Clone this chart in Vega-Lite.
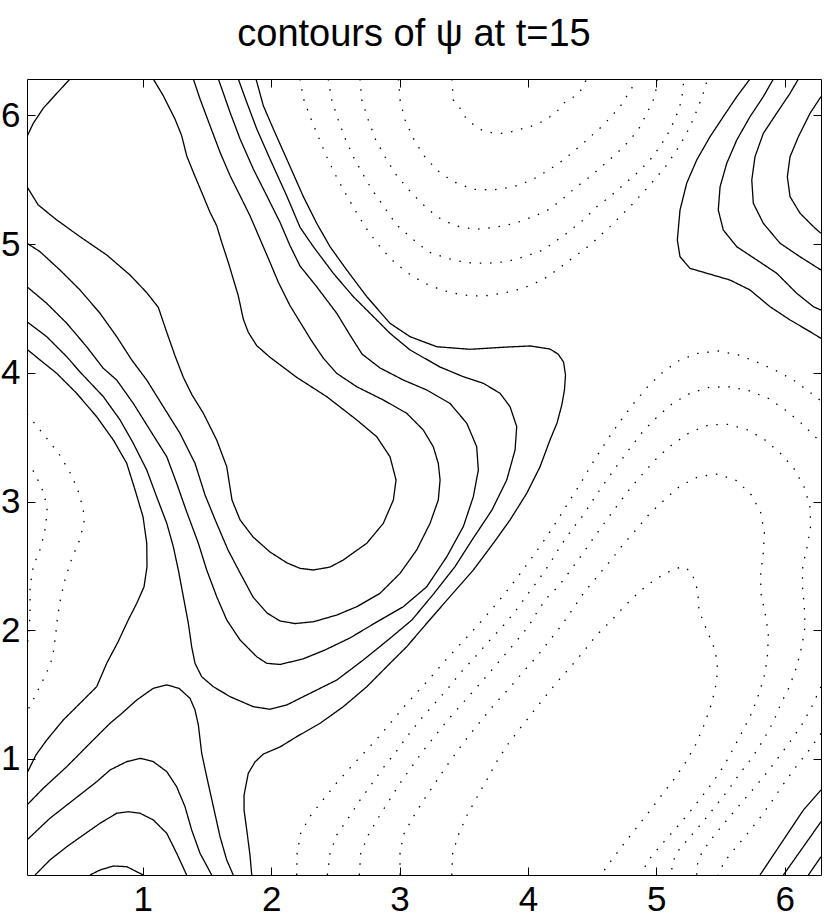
{
"$schema": "https://vega.github.io/schema/vega-lite/v6.json",
"width": 794, "height": 796,
"autosize": {"type": "none"},
"padding": {"left": 27, "top": 79, "right": 9, "bottom": 48},
"background": "white",
"title": {"text": "contours of ψ at t=15", "font": "Liberation Sans", "fontSize": 38, "fontWeight": "normal", "color": "black", "anchor": "middle", "baseline": "alphabetic", "offset": -5, "dx": -10},
"config": {"view": {"stroke": "black", "strokeWidth": 1}},
"datasets": {"c": [
{"c":"S1","s":"solid","x":0.098,"y":5.835},{"c":"S1","s":"solid","x":0.147,"y":5.939},{"c":"S1","s":"solid","x":0.225,"y":6.056},{"c":"S1","s":"solid","x":0.330,"y":6.172},{"c":"S1","s":"solid","x":0.433,"y":6.283},
{"c":"U1","s":"solid","x":0.098,"y":5.446},{"c":"U1","s":"solid","x":0.186,"y":5.304},{"c":"U1","s":"solid","x":0.330,"y":5.188},{"c":"U1","s":"solid","x":0.511,"y":5.058},{"c":"U1","s":"solid","x":0.719,"y":4.916},{"c":"U1","s":"solid","x":0.901,"y":4.760},{"c":"U1","s":"solid","x":1.031,"y":4.623},{"c":"U1","s":"solid","x":1.121,"y":4.509},{"c":"U1","s":"solid","x":1.187,"y":4.315},{"c":"U1","s":"solid","x":1.251,"y":4.133},{"c":"U1","s":"solid","x":1.316,"y":3.965},{"c":"U1","s":"solid","x":1.384,"y":3.828},{"c":"U1","s":"solid","x":1.472,"y":3.686},{"c":"U1","s":"solid","x":1.576,"y":3.478},{"c":"U1","s":"solid","x":1.654,"y":3.271},{"c":"U1","s":"solid","x":1.695,"y":3.012},{"c":"U1","s":"solid","x":1.758,"y":2.857},{"c":"U1","s":"solid","x":1.859,"y":2.725},{"c":"U1","s":"solid","x":1.991,"y":2.608},{"c":"U1","s":"solid","x":2.124,"y":2.523},{"c":"U1","s":"solid","x":2.225,"y":2.481},{"c":"U1","s":"solid","x":2.329,"y":2.468},{"c":"U1","s":"solid","x":2.459,"y":2.491},{"c":"U1","s":"solid","x":2.562,"y":2.546},{"c":"U1","s":"solid","x":2.745,"y":2.676},{"c":"U1","s":"solid","x":2.874,"y":2.831},{"c":"U1","s":"solid","x":2.952,"y":3.012},{"c":"U1","s":"solid","x":2.973,"y":3.167},{"c":"U1","s":"solid","x":2.926,"y":3.348},{"c":"U1","s":"solid","x":2.822,"y":3.504},{"c":"U1","s":"solid","x":2.667,"y":3.634},{"c":"U1","s":"solid","x":2.433,"y":3.815},{"c":"U1","s":"solid","x":2.199,"y":3.965},{"c":"U1","s":"solid","x":2.095,"y":4.043},{"c":"U1","s":"solid","x":1.991,"y":4.121},{"c":"U1","s":"solid","x":1.888,"y":4.211},{"c":"U1","s":"solid","x":1.822,"y":4.315},{"c":"U1","s":"solid","x":1.783,"y":4.418},{"c":"U1","s":"solid","x":1.744,"y":4.599},{"c":"U1","s":"solid","x":1.705,"y":4.729},{"c":"U1","s":"solid","x":1.666,"y":4.859},{"c":"U1","s":"solid","x":1.615,"y":5.014},{"c":"U1","s":"solid","x":1.576,"y":5.143},{"c":"U1","s":"solid","x":1.524,"y":5.247},{"c":"U1","s":"solid","x":1.459,"y":5.403},{"c":"U1","s":"solid","x":1.394,"y":5.558},{"c":"U1","s":"solid","x":1.342,"y":5.687},{"c":"U1","s":"solid","x":1.303,"y":5.843},{"c":"U1","s":"solid","x":1.251,"y":5.972},{"c":"U1","s":"solid","x":1.160,"y":6.153},{"c":"U1","s":"solid","x":1.082,"y":6.283},
{"c":"U2","s":"solid","x":0.098,"y":5.007},{"c":"U2","s":"solid","x":0.200,"y":4.941},{"c":"U2","s":"solid","x":0.355,"y":4.799},{"c":"U2","s":"solid","x":0.511,"y":4.644},{"c":"U2","s":"solid","x":0.667,"y":4.463},{"c":"U2","s":"solid","x":0.797,"y":4.281},{"c":"U2","s":"solid","x":0.914,"y":4.100},{"c":"U2","s":"solid","x":1.031,"y":3.944},{"c":"U2","s":"solid","x":1.160,"y":3.737},{"c":"U2","s":"solid","x":1.290,"y":3.530},{"c":"U2","s":"solid","x":1.407,"y":3.297},{"c":"U2","s":"solid","x":1.485,"y":3.051},{"c":"U2","s":"solid","x":1.571,"y":2.841},{"c":"U2","s":"solid","x":1.664,"y":2.624},{"c":"U2","s":"solid","x":1.758,"y":2.445},{"c":"U2","s":"solid","x":1.859,"y":2.258},{"c":"U2","s":"solid","x":1.968,"y":2.134},{"c":"U2","s":"solid","x":2.069,"y":2.072},{"c":"U2","s":"solid","x":2.186,"y":2.052},{"c":"U2","s":"solid","x":2.329,"y":2.066},{"c":"U2","s":"solid","x":2.511,"y":2.118},{"c":"U2","s":"solid","x":2.667,"y":2.183},{"c":"U2","s":"solid","x":2.848,"y":2.287},{"c":"U2","s":"solid","x":3.004,"y":2.442},{"c":"U2","s":"solid","x":3.134,"y":2.624},{"c":"U2","s":"solid","x":3.238,"y":2.831},{"c":"U2","s":"solid","x":3.302,"y":3.012},{"c":"U2","s":"solid","x":3.316,"y":3.167},{"c":"U2","s":"solid","x":3.302,"y":3.297},{"c":"U2","s":"solid","x":3.263,"y":3.426},{"c":"U2","s":"solid","x":3.185,"y":3.556},{"c":"U2","s":"solid","x":3.056,"y":3.686},{"c":"U2","s":"solid","x":2.874,"y":3.789},{"c":"U2","s":"solid","x":2.667,"y":3.892},{"c":"U2","s":"solid","x":2.511,"y":3.996},{"c":"U2","s":"solid","x":2.406,"y":4.115},{"c":"U2","s":"solid","x":2.311,"y":4.255},{"c":"U2","s":"solid","x":2.225,"y":4.395},{"c":"U2","s":"solid","x":2.147,"y":4.522},{"c":"U2","s":"solid","x":2.056,"y":4.704},{"c":"U2","s":"solid","x":1.991,"y":4.859},{"c":"U2","s":"solid","x":1.913,"y":5.040},{"c":"U2","s":"solid","x":1.835,"y":5.221},{"c":"U2","s":"solid","x":1.758,"y":5.376},{"c":"U2","s":"solid","x":1.680,"y":5.532},{"c":"U2","s":"solid","x":1.602,"y":5.714},{"c":"U2","s":"solid","x":1.524,"y":5.920},{"c":"U2","s":"solid","x":1.446,"y":6.128},{"c":"U2","s":"solid","x":1.394,"y":6.283},
{"c":"U3","s":"solid","x":0.098,"y":4.669},{"c":"U3","s":"solid","x":0.252,"y":4.540},{"c":"U3","s":"solid","x":0.408,"y":4.385},{"c":"U3","s":"solid","x":0.563,"y":4.203},{"c":"U3","s":"solid","x":0.690,"y":4.038},{"c":"U3","s":"solid","x":0.797,"y":3.944},{"c":"U3","s":"solid","x":0.926,"y":3.763},{"c":"U3","s":"solid","x":1.056,"y":3.556},{"c":"U3","s":"solid","x":1.187,"y":3.348},{"c":"U3","s":"solid","x":1.264,"y":3.142},{"c":"U3","s":"solid","x":1.337,"y":2.934},{"c":"U3","s":"solid","x":1.433,"y":2.676},{"c":"U3","s":"solid","x":1.498,"y":2.468},{"c":"U3","s":"solid","x":1.576,"y":2.261},{"c":"U3","s":"solid","x":1.654,"y":2.080},{"c":"U3","s":"solid","x":1.758,"y":1.924},{"c":"U3","s":"solid","x":1.888,"y":1.794},{"c":"U3","s":"solid","x":1.966,"y":1.743},{"c":"U3","s":"solid","x":2.069,"y":1.734},{"c":"U3","s":"solid","x":2.248,"y":1.777},{"c":"U3","s":"solid","x":2.420,"y":1.847},{"c":"U3","s":"solid","x":2.614,"y":1.940},{"c":"U3","s":"solid","x":2.809,"y":2.056},{"c":"U3","s":"solid","x":3.027,"y":2.181},{"c":"U3","s":"solid","x":3.212,"y":2.338},{"c":"U3","s":"solid","x":3.368,"y":2.571},{"c":"U3","s":"solid","x":3.497,"y":2.805},{"c":"U3","s":"solid","x":3.575,"y":3.038},{"c":"U3","s":"solid","x":3.614,"y":3.245},{"c":"U3","s":"solid","x":3.601,"y":3.426},{"c":"U3","s":"solid","x":3.524,"y":3.608},{"c":"U3","s":"solid","x":3.393,"y":3.763},{"c":"U3","s":"solid","x":3.212,"y":3.867},{"c":"U3","s":"solid","x":3.030,"y":3.944},{"c":"U3","s":"solid","x":2.848,"y":4.038},{"c":"U3","s":"solid","x":2.708,"y":4.146},{"c":"U3","s":"solid","x":2.614,"y":4.294},{"c":"U3","s":"solid","x":2.511,"y":4.463},{"c":"U3","s":"solid","x":2.355,"y":4.669},{"c":"U3","s":"solid","x":2.225,"y":4.830},{"c":"U3","s":"solid","x":2.147,"y":4.988},{"c":"U3","s":"solid","x":2.069,"y":5.170},{"c":"U3","s":"solid","x":1.966,"y":5.376},{"c":"U3","s":"solid","x":1.861,"y":5.584},{"c":"U3","s":"solid","x":1.758,"y":5.817},{"c":"U3","s":"solid","x":1.680,"y":6.024},{"c":"U3","s":"solid","x":1.589,"y":6.283},
{"c":"U4","s":"solid","x":0.098,"y":4.397},{"c":"U4","s":"solid","x":0.252,"y":4.281},{"c":"U4","s":"solid","x":0.408,"y":4.125},{"c":"U4","s":"solid","x":0.511,"y":4.007},{"c":"U4","s":"solid","x":0.693,"y":3.815},{"c":"U4","s":"solid","x":0.823,"y":3.634},{"c":"U4","s":"solid","x":0.926,"y":3.453},{"c":"U4","s":"solid","x":1.031,"y":3.245},{"c":"U4","s":"solid","x":1.109,"y":3.035},{"c":"U4","s":"solid","x":1.187,"y":2.831},{"c":"U4","s":"solid","x":1.238,"y":2.649},{"c":"U4","s":"solid","x":1.277,"y":2.468},{"c":"U4","s":"solid","x":1.316,"y":2.261},{"c":"U4","s":"solid","x":1.355,"y":2.054},{"c":"U4","s":"solid","x":1.381,"y":1.872},{"c":"U4","s":"solid","x":1.407,"y":1.743},{"c":"U4","s":"solid","x":1.459,"y":1.639},{"c":"U4","s":"solid","x":1.550,"y":1.561},{"c":"U4","s":"solid","x":1.680,"y":1.484},{"c":"U4","s":"solid","x":1.861,"y":1.406},{"c":"U4","s":"solid","x":1.991,"y":1.386},{"c":"U4","s":"solid","x":2.121,"y":1.419},{"c":"U4","s":"solid","x":2.251,"y":1.484},{"c":"U4","s":"solid","x":2.511,"y":1.613},{"c":"U4","s":"solid","x":2.718,"y":1.769},{"c":"U4","s":"solid","x":2.910,"y":1.924},{"c":"U4","s":"solid","x":3.097,"y":2.080},{"c":"U4","s":"solid","x":3.269,"y":2.287},{"c":"U4","s":"solid","x":3.432,"y":2.494},{"c":"U4","s":"solid","x":3.565,"y":2.701},{"c":"U4","s":"solid","x":3.720,"y":2.934},{"c":"U4","s":"solid","x":3.835,"y":3.167},{"c":"U4","s":"solid","x":3.900,"y":3.400},{"c":"U4","s":"solid","x":3.913,"y":3.582},{"c":"U4","s":"solid","x":3.861,"y":3.737},{"c":"U4","s":"solid","x":3.783,"y":3.841},{"c":"U4","s":"solid","x":3.653,"y":3.919},{"c":"U4","s":"solid","x":3.497,"y":3.970},{"c":"U4","s":"solid","x":3.316,"y":4.045},{"c":"U4","s":"solid","x":3.082,"y":4.178},{"c":"U4","s":"solid","x":2.926,"y":4.307},{"c":"U4","s":"solid","x":2.770,"y":4.463},{"c":"U4","s":"solid","x":2.640,"y":4.592},{"c":"U4","s":"solid","x":2.484,"y":4.774},{"c":"U4","s":"solid","x":2.329,"y":4.980},{"c":"U4","s":"solid","x":2.225,"y":5.131},{"c":"U4","s":"solid","x":2.121,"y":5.376},{"c":"U4","s":"solid","x":1.991,"y":5.662},{"c":"U4","s":"solid","x":1.888,"y":5.895},{"c":"U4","s":"solid","x":1.810,"y":6.102},{"c":"U4","s":"solid","x":1.744,"y":6.283},
{"c":"K","s":"solid","x":1.849,"y":0.098},{"c":"K","s":"solid","x":1.835,"y":0.254},{"c":"K","s":"solid","x":1.810,"y":0.448},{"c":"K","s":"solid","x":1.789,"y":0.603},{"c":"K","s":"solid","x":1.789,"y":0.720},{"c":"K","s":"solid","x":1.822,"y":0.889},{"c":"K","s":"solid","x":1.874,"y":0.976},{"c":"K","s":"solid","x":1.939,"y":1.038},{"c":"K","s":"solid","x":2.069,"y":1.093},{"c":"K","s":"solid","x":2.199,"y":1.173},{"c":"K","s":"solid","x":2.381,"y":1.277},{"c":"K","s":"solid","x":2.562,"y":1.406},{"c":"K","s":"solid","x":2.745,"y":1.561},{"c":"K","s":"solid","x":2.926,"y":1.743},{"c":"K","s":"solid","x":3.056,"y":1.872},{"c":"K","s":"solid","x":3.212,"y":2.054},{"c":"K","s":"solid","x":3.393,"y":2.261},{"c":"K","s":"solid","x":3.575,"y":2.468},{"c":"K","s":"solid","x":3.731,"y":2.676},{"c":"K","s":"solid","x":3.861,"y":2.857},{"c":"K","s":"solid","x":3.991,"y":3.064},{"c":"K","s":"solid","x":4.095,"y":3.271},{"c":"K","s":"solid","x":4.172,"y":3.478},{"c":"K","s":"solid","x":4.227,"y":3.610},{"c":"K","s":"solid","x":4.264,"y":3.750},{"c":"K","s":"solid","x":4.285,"y":3.867},{"c":"K","s":"solid","x":4.293,"y":3.983},{"c":"K","s":"solid","x":4.278,"y":4.084},{"c":"K","s":"solid","x":4.235,"y":4.146},{"c":"K","s":"solid","x":4.172,"y":4.185},{"c":"K","s":"solid","x":4.017,"y":4.209},{"c":"K","s":"solid","x":3.809,"y":4.199},{"c":"K","s":"solid","x":3.549,"y":4.183},{"c":"K","s":"solid","x":3.290,"y":4.203},{"c":"K","s":"solid","x":3.082,"y":4.281},{"c":"K","s":"solid","x":2.926,"y":4.385},{"c":"K","s":"solid","x":2.745,"y":4.592},{"c":"K","s":"solid","x":2.589,"y":4.799},{"c":"K","s":"solid","x":2.459,"y":4.980},{"c":"K","s":"solid","x":2.355,"y":5.162},{"c":"K","s":"solid","x":2.251,"y":5.369},{"c":"K","s":"solid","x":2.121,"y":5.662},{"c":"K","s":"solid","x":2.017,"y":5.895},{"c":"K","s":"solid","x":1.939,"y":6.076},{"c":"K","s":"solid","x":1.882,"y":6.283},
{"c":"F","s":"solid","x":0.098,"y":4.183},{"c":"F","s":"solid","x":0.200,"y":4.100},{"c":"F","s":"solid","x":0.330,"y":3.996},{"c":"F","s":"solid","x":0.485,"y":3.841},{"c":"F","s":"solid","x":0.641,"y":3.659},{"c":"F","s":"solid","x":0.771,"y":3.478},{"c":"F","s":"solid","x":0.875,"y":3.297},{"c":"F","s":"solid","x":0.940,"y":3.090},{"c":"F","s":"solid","x":1.002,"y":2.882},{"c":"F","s":"solid","x":1.031,"y":2.676},{"c":"F","s":"solid","x":1.033,"y":2.494},{"c":"F","s":"solid","x":1.010,"y":2.338},{"c":"F","s":"solid","x":0.953,"y":2.209},{"c":"F","s":"solid","x":0.887,"y":2.080},{"c":"F","s":"solid","x":0.807,"y":1.909},{"c":"F","s":"solid","x":0.719,"y":1.743},{"c":"F","s":"solid","x":0.641,"y":1.561},{"c":"F","s":"solid","x":0.511,"y":1.432},{"c":"F","s":"solid","x":0.381,"y":1.303},{"c":"F","s":"solid","x":0.252,"y":1.147},{"c":"F","s":"solid","x":0.168,"y":1.031},{"c":"F","s":"solid","x":0.098,"y":0.889},
{"c":"A1","s":"solid","x":0.098,"y":0.642},{"c":"A1","s":"solid","x":0.225,"y":0.772},{"c":"A1","s":"solid","x":0.408,"y":0.940},{"c":"A1","s":"solid","x":0.589,"y":1.122},{"c":"A1","s":"solid","x":0.745,"y":1.277},{"c":"A1","s":"solid","x":0.838,"y":1.355},{"c":"A1","s":"solid","x":0.953,"y":1.458},{"c":"A1","s":"solid","x":1.082,"y":1.549},{"c":"A1","s":"solid","x":1.187,"y":1.575},{"c":"A1","s":"solid","x":1.282,"y":1.549},{"c":"A1","s":"solid","x":1.368,"y":1.471},{"c":"A1","s":"solid","x":1.407,"y":1.380},{"c":"A1","s":"solid","x":1.433,"y":1.264},{"c":"A1","s":"solid","x":1.459,"y":1.044},{"c":"A1","s":"solid","x":1.498,"y":0.862},{"c":"A1","s":"solid","x":1.550,"y":0.629},{"c":"A1","s":"solid","x":1.602,"y":0.396},{"c":"A1","s":"solid","x":1.654,"y":0.215},{"c":"A1","s":"solid","x":1.705,"y":0.098},
{"c":"A2","s":"solid","x":0.098,"y":0.370},{"c":"A2","s":"solid","x":0.277,"y":0.539},{"c":"A2","s":"solid","x":0.459,"y":0.681},{"c":"A2","s":"solid","x":0.641,"y":0.823},{"c":"A2","s":"solid","x":0.745,"y":0.914},{"c":"A2","s":"solid","x":0.875,"y":0.979},{"c":"A2","s":"solid","x":0.979,"y":1.005},{"c":"A2","s":"solid","x":1.082,"y":0.979},{"c":"A2","s":"solid","x":1.187,"y":0.901},{"c":"A2","s":"solid","x":1.264,"y":0.784},{"c":"A2","s":"solid","x":1.329,"y":0.629},{"c":"A2","s":"solid","x":1.381,"y":0.448},{"c":"A2","s":"solid","x":1.446,"y":0.267},{"c":"A2","s":"solid","x":1.537,"y":0.098},
{"c":"A3","s":"solid","x":0.161,"y":0.098},{"c":"A3","s":"solid","x":0.277,"y":0.215},{"c":"A3","s":"solid","x":0.408,"y":0.318},{"c":"A3","s":"solid","x":0.537,"y":0.409},{"c":"A3","s":"solid","x":0.667,"y":0.500},{"c":"A3","s":"solid","x":0.797,"y":0.578},{"c":"A3","s":"solid","x":0.887,"y":0.590},{"c":"A3","s":"solid","x":0.979,"y":0.578},{"c":"A3","s":"solid","x":1.082,"y":0.526},{"c":"A3","s":"solid","x":1.187,"y":0.422},{"c":"A3","s":"solid","x":1.264,"y":0.267},{"c":"A3","s":"solid","x":1.342,"y":0.098},
{"c":"A4","s":"solid","x":0.589,"y":0.098},{"c":"A4","s":"solid","x":0.667,"y":0.137},{"c":"A4","s":"solid","x":0.771,"y":0.168},{"c":"A4","s":"solid","x":0.875,"y":0.163},{"c":"A4","s":"solid","x":1.004,"y":0.098},
{"c":"R1","s":"solid","x":5.730,"y":6.283},{"c":"R1","s":"solid","x":5.627,"y":6.146},{"c":"R1","s":"solid","x":5.522,"y":5.990},{"c":"R1","s":"solid","x":5.419,"y":5.835},{"c":"R1","s":"solid","x":5.315,"y":5.654},{"c":"R1","s":"solid","x":5.237,"y":5.473},{"c":"R1","s":"solid","x":5.185,"y":5.265},{"c":"R1","s":"solid","x":5.164,"y":5.032},{"c":"R1","s":"solid","x":5.185,"y":4.902},{"c":"R1","s":"solid","x":5.263,"y":4.812},{"c":"R1","s":"solid","x":5.393,"y":4.774},{"c":"R1","s":"solid","x":5.575,"y":4.721},{"c":"R1","s":"solid","x":5.730,"y":4.644},{"c":"R1","s":"solid","x":5.886,"y":4.514},{"c":"R1","s":"solid","x":6.042,"y":4.411},{"c":"R1","s":"solid","x":6.198,"y":4.320},{"c":"R1","s":"solid","x":6.283,"y":4.268},
{"c":"R2","s":"solid","x":5.912,"y":6.283},{"c":"R2","s":"solid","x":5.834,"y":6.146},{"c":"R2","s":"solid","x":5.730,"y":5.990},{"c":"R2","s":"solid","x":5.627,"y":5.809},{"c":"R2","s":"solid","x":5.549,"y":5.628},{"c":"R2","s":"solid","x":5.497,"y":5.446},{"c":"R2","s":"solid","x":5.483,"y":5.265},{"c":"R2","s":"solid","x":5.522,"y":5.110},{"c":"R2","s":"solid","x":5.627,"y":4.980},{"c":"R2","s":"solid","x":5.783,"y":4.877},{"c":"R2","s":"solid","x":5.938,"y":4.774},{"c":"R2","s":"solid","x":6.094,"y":4.618},{"c":"R2","s":"solid","x":6.224,"y":4.514},{"c":"R2","s":"solid","x":6.283,"y":4.488},
{"c":"R3","s":"solid","x":6.107,"y":6.283},{"c":"R3","s":"solid","x":6.042,"y":6.172},{"c":"R3","s":"solid","x":5.938,"y":6.017},{"c":"R3","s":"solid","x":5.834,"y":5.861},{"c":"R3","s":"solid","x":5.769,"y":5.679},{"c":"R3","s":"solid","x":5.744,"y":5.498},{"c":"R3","s":"solid","x":5.756,"y":5.317},{"c":"R3","s":"solid","x":5.834,"y":5.162},{"c":"R3","s":"solid","x":5.964,"y":5.007},{"c":"R3","s":"solid","x":6.120,"y":4.902},{"c":"R3","s":"solid","x":6.283,"y":4.799},
{"c":"R4","s":"solid","x":6.283,"y":6.146},{"c":"R4","s":"solid","x":6.198,"y":6.017},{"c":"R4","s":"solid","x":6.107,"y":5.835},{"c":"R4","s":"solid","x":6.042,"y":5.679},{"c":"R4","s":"solid","x":6.021,"y":5.524},{"c":"R4","s":"solid","x":6.042,"y":5.369},{"c":"R4","s":"solid","x":6.120,"y":5.240},{"c":"R4","s":"solid","x":6.224,"y":5.136},{"c":"R4","s":"solid","x":6.283,"y":5.084},
{"c":"B1","s":"solid","x":5.808,"y":0.098},{"c":"B1","s":"solid","x":5.990,"y":0.370},{"c":"B1","s":"solid","x":6.146,"y":0.603},{"c":"B1","s":"solid","x":6.283,"y":0.759},
{"c":"B2","s":"solid","x":5.990,"y":0.098},{"c":"B2","s":"solid","x":6.146,"y":0.318},{"c":"B2","s":"solid","x":6.283,"y":0.512},
{"c":"B3","s":"solid","x":6.185,"y":0.098},{"c":"B3","s":"solid","x":6.283,"y":0.240},
{"c":"D1","s":"dotted","x":2.225,"y":6.283},{"c":"D1","s":"dotted","x":2.251,"y":6.133},{"c":"D1","s":"dotted","x":2.308,"y":5.978},{"c":"D1","s":"dotted","x":2.373,"y":5.822},{"c":"D1","s":"dotted","x":2.433,"y":5.679},{"c":"D1","s":"dotted","x":2.498,"y":5.543},{"c":"D1","s":"dotted","x":2.576,"y":5.400},{"c":"D1","s":"dotted","x":2.653,"y":5.265},{"c":"D1","s":"dotted","x":2.737,"y":5.128},{"c":"D1","s":"dotted","x":2.830,"y":5.001},{"c":"D1","s":"dotted","x":2.932,"y":4.885},{"c":"D1","s":"dotted","x":3.056,"y":4.781},{"c":"D1","s":"dotted","x":3.189,"y":4.700},{"c":"D1","s":"dotted","x":3.333,"y":4.641},{"c":"D1","s":"dotted","x":3.489,"y":4.605},{"c":"D1","s":"dotted","x":3.645,"y":4.595},{"c":"D1","s":"dotted","x":3.804,"y":4.618},{"c":"D1","s":"dotted","x":3.954,"y":4.654},{"c":"D1","s":"dotted","x":4.100,"y":4.716},{"c":"D1","s":"dotted","x":4.172,"y":4.760},{"c":"D1","s":"dotted","x":4.328,"y":4.877},{"c":"D1","s":"dotted","x":4.484,"y":4.993},{"c":"D1","s":"dotted","x":4.640,"y":5.136},{"c":"D1","s":"dotted","x":4.796,"y":5.291},{"c":"D1","s":"dotted","x":4.951,"y":5.460},{"c":"D1","s":"dotted","x":5.082,"y":5.615},{"c":"D1","s":"dotted","x":5.185,"y":5.770},{"c":"D1","s":"dotted","x":5.263,"y":5.913},{"c":"D1","s":"dotted","x":5.328,"y":6.068},{"c":"D1","s":"dotted","x":5.380,"y":6.211},{"c":"D1","s":"dotted","x":5.398,"y":6.283},
{"c":"D2","s":"dotted","x":2.445,"y":6.283},{"c":"D2","s":"dotted","x":2.472,"y":6.120},{"c":"D2","s":"dotted","x":2.523,"y":5.965},{"c":"D2","s":"dotted","x":2.576,"y":5.822},{"c":"D2","s":"dotted","x":2.640,"y":5.679},{"c":"D2","s":"dotted","x":2.718,"y":5.537},{"c":"D2","s":"dotted","x":2.796,"y":5.408},{"c":"D2","s":"dotted","x":2.887,"y":5.279},{"c":"D2","s":"dotted","x":2.978,"y":5.149},{"c":"D2","s":"dotted","x":3.095,"y":5.045},{"c":"D2","s":"dotted","x":3.224,"y":4.941},{"c":"D2","s":"dotted","x":3.368,"y":4.890},{"c":"D2","s":"dotted","x":3.524,"y":4.856},{"c":"D2","s":"dotted","x":3.679,"y":4.851},{"c":"D2","s":"dotted","x":3.835,"y":4.864},{"c":"D2","s":"dotted","x":3.991,"y":4.908},{"c":"D2","s":"dotted","x":4.120,"y":4.955},{"c":"D2","s":"dotted","x":4.303,"y":5.084},{"c":"D2","s":"dotted","x":4.432,"y":5.188},{"c":"D2","s":"dotted","x":4.536,"y":5.291},{"c":"D2","s":"dotted","x":4.640,"y":5.369},{"c":"D2","s":"dotted","x":4.743,"y":5.460},{"c":"D2","s":"dotted","x":4.848,"y":5.550},{"c":"D2","s":"dotted","x":4.951,"y":5.654},{"c":"D2","s":"dotted","x":5.029,"y":5.757},{"c":"D2","s":"dotted","x":5.107,"y":5.887},{"c":"D2","s":"dotted","x":5.164,"y":6.017},{"c":"D2","s":"dotted","x":5.198,"y":6.120},{"c":"D2","s":"dotted","x":5.211,"y":6.237},{"c":"D2","s":"dotted","x":5.216,"y":6.283},
{"c":"D3","s":"dotted","x":2.692,"y":6.283},{"c":"D3","s":"dotted","x":2.706,"y":6.120},{"c":"D3","s":"dotted","x":2.757,"y":5.965},{"c":"D3","s":"dotted","x":2.809,"y":5.822},{"c":"D3","s":"dotted","x":2.887,"y":5.679},{"c":"D3","s":"dotted","x":2.965,"y":5.550},{"c":"D3","s":"dotted","x":3.069,"y":5.426},{"c":"D3","s":"dotted","x":3.173,"y":5.317},{"c":"D3","s":"dotted","x":3.290,"y":5.213},{"c":"D3","s":"dotted","x":3.432,"y":5.143},{"c":"D3","s":"dotted","x":3.588,"y":5.115},{"c":"D3","s":"dotted","x":3.744,"y":5.131},{"c":"D3","s":"dotted","x":3.900,"y":5.162},{"c":"D3","s":"dotted","x":4.056,"y":5.219},{"c":"D3","s":"dotted","x":4.172,"y":5.273},{"c":"D3","s":"dotted","x":4.276,"y":5.356},{"c":"D3","s":"dotted","x":4.380,"y":5.446},{"c":"D3","s":"dotted","x":4.484,"y":5.524},{"c":"D3","s":"dotted","x":4.588,"y":5.615},{"c":"D3","s":"dotted","x":4.692,"y":5.706},{"c":"D3","s":"dotted","x":4.796,"y":5.809},{"c":"D3","s":"dotted","x":4.874,"y":5.913},{"c":"D3","s":"dotted","x":4.926,"y":6.017},{"c":"D3","s":"dotted","x":4.977,"y":6.120},{"c":"D3","s":"dotted","x":5.004,"y":6.223},{"c":"D3","s":"dotted","x":5.008,"y":6.283},
{"c":"D4","s":"dotted","x":2.991,"y":6.283},{"c":"D4","s":"dotted","x":3.004,"y":6.120},{"c":"D4","s":"dotted","x":3.043,"y":5.965},{"c":"D4","s":"dotted","x":3.108,"y":5.822},{"c":"D4","s":"dotted","x":3.185,"y":5.693},{"c":"D4","s":"dotted","x":3.290,"y":5.576},{"c":"D4","s":"dotted","x":3.419,"y":5.485},{"c":"D4","s":"dotted","x":3.575,"y":5.426},{"c":"D4","s":"dotted","x":3.731,"y":5.421},{"c":"D4","s":"dotted","x":3.887,"y":5.446},{"c":"D4","s":"dotted","x":4.030,"y":5.498},{"c":"D4","s":"dotted","x":4.172,"y":5.582},{"c":"D4","s":"dotted","x":4.276,"y":5.654},{"c":"D4","s":"dotted","x":4.432,"y":5.784},{"c":"D4","s":"dotted","x":4.588,"y":5.926},{"c":"D4","s":"dotted","x":4.718,"y":6.068},{"c":"D4","s":"dotted","x":4.809,"y":6.211},{"c":"D4","s":"dotted","x":4.835,"y":6.283},
{"c":"D5","s":"dotted","x":3.407,"y":6.283},{"c":"D5","s":"dotted","x":3.419,"y":6.120},{"c":"D5","s":"dotted","x":3.471,"y":6.056},{"c":"D5","s":"dotted","x":3.510,"y":5.990},{"c":"D5","s":"dotted","x":3.562,"y":5.939},{"c":"D5","s":"dotted","x":3.640,"y":5.887},{"c":"D5","s":"dotted","x":3.718,"y":5.866},{"c":"D5","s":"dotted","x":3.796,"y":5.861},{"c":"D5","s":"dotted","x":3.874,"y":5.874},{"c":"D5","s":"dotted","x":3.939,"y":5.892},{"c":"D5","s":"dotted","x":4.017,"y":5.913},{"c":"D5","s":"dotted","x":4.095,"y":5.944},{"c":"D5","s":"dotted","x":4.172,"y":5.990},{"c":"D5","s":"dotted","x":4.225,"y":6.029},{"c":"D5","s":"dotted","x":4.276,"y":6.094},{"c":"D5","s":"dotted","x":4.341,"y":6.133},{"c":"D5","s":"dotted","x":4.406,"y":6.185},{"c":"D5","s":"dotted","x":4.458,"y":6.283},
{"c":"Ea","s":"dotted","x":2.199,"y":0.098},{"c":"Ea","s":"dotted","x":2.202,"y":0.267},{"c":"Ea","s":"dotted","x":2.230,"y":0.422},{"c":"Ea","s":"dotted","x":2.303,"y":0.554},{"c":"Ea","s":"dotted","x":2.402,"y":0.679},{"c":"Ea","s":"dotted","x":2.503,"y":0.805},{"c":"Ea","s":"dotted","x":2.607,"y":0.922},{"c":"Ea","s":"dotted","x":2.713,"y":1.036},{"c":"Ea","s":"dotted","x":2.817,"y":1.147},{"c":"Ea","s":"dotted","x":2.921,"y":1.269},{"c":"Ea","s":"dotted","x":3.025,"y":1.394},{"c":"Ea","s":"dotted","x":3.129,"y":1.510},{"c":"Ea","s":"dotted","x":3.238,"y":1.627},{"c":"Ea","s":"dotted","x":3.341,"y":1.748},{"c":"Ea","s":"dotted","x":3.448,"y":1.864},{"c":"Ea","s":"dotted","x":3.555,"y":1.979},{"c":"Ea","s":"dotted","x":3.661,"y":2.097},{"c":"Ea","s":"dotted","x":3.765,"y":2.217},{"c":"Ea","s":"dotted","x":3.863,"y":2.338},{"c":"Ea","s":"dotted","x":3.960,"y":2.468},{"c":"Ea","s":"dotted","x":4.056,"y":2.598},{"c":"Ea","s":"dotted","x":4.147,"y":2.727},{"c":"Ea","s":"dotted","x":4.229,"y":2.854},{"c":"Ea","s":"dotted","x":4.313,"y":2.989},{"c":"Ea","s":"dotted","x":4.398,"y":3.121},{"c":"Ea","s":"dotted","x":4.479,"y":3.258},{"c":"Ea","s":"dotted","x":4.562,"y":3.393},{"c":"Ea","s":"dotted","x":4.650,"y":3.525},{"c":"Ea","s":"dotted","x":4.739,"y":3.652},{"c":"Ea","s":"dotted","x":4.835,"y":3.776},{"c":"Ea","s":"dotted","x":4.938,"y":3.898},{"c":"Ea","s":"dotted","x":5.055,"y":4.009},{"c":"Ea","s":"dotted","x":5.185,"y":4.100},{"c":"Ea","s":"dotted","x":5.328,"y":4.152},{"c":"Ea","s":"dotted","x":5.483,"y":4.170},{"c":"Ea","s":"dotted","x":5.639,"y":4.139},{"c":"Ea","s":"dotted","x":5.795,"y":4.079},{"c":"Ea","s":"dotted","x":5.933,"y":4.017},{"c":"Ea","s":"dotted","x":6.068,"y":3.944},{"c":"Ea","s":"dotted","x":6.198,"y":3.849},{"c":"Ea","s":"dotted","x":6.283,"y":3.781},
{"c":"Eb","s":"dotted","x":2.438,"y":0.098},{"c":"Eb","s":"dotted","x":2.459,"y":0.267},{"c":"Eb","s":"dotted","x":2.511,"y":0.409},{"c":"Eb","s":"dotted","x":2.601,"y":0.539},{"c":"Eb","s":"dotted","x":2.687,"y":0.673},{"c":"Eb","s":"dotted","x":2.783,"y":0.805},{"c":"Eb","s":"dotted","x":2.874,"y":0.932},{"c":"Eb","s":"dotted","x":2.973,"y":1.056},{"c":"Eb","s":"dotted","x":3.064,"y":1.181},{"c":"Eb","s":"dotted","x":3.160,"y":1.303},{"c":"Eb","s":"dotted","x":3.263,"y":1.419},{"c":"Eb","s":"dotted","x":3.368,"y":1.536},{"c":"Eb","s":"dotted","x":3.471,"y":1.665},{"c":"Eb","s":"dotted","x":3.580,"y":1.782},{"c":"Eb","s":"dotted","x":3.682,"y":1.899},{"c":"Eb","s":"dotted","x":3.791,"y":2.015},{"c":"Eb","s":"dotted","x":3.890,"y":2.132},{"c":"Eb","s":"dotted","x":3.985,"y":2.261},{"c":"Eb","s":"dotted","x":4.081,"y":2.390},{"c":"Eb","s":"dotted","x":4.172,"y":2.520},{"c":"Eb","s":"dotted","x":4.250,"y":2.649},{"c":"Eb","s":"dotted","x":4.349,"y":2.792},{"c":"Eb","s":"dotted","x":4.432,"y":2.895},{"c":"Eb","s":"dotted","x":4.523,"y":3.038},{"c":"Eb","s":"dotted","x":4.614,"y":3.167},{"c":"Eb","s":"dotted","x":4.708,"y":3.297},{"c":"Eb","s":"dotted","x":4.801,"y":3.422},{"c":"Eb","s":"dotted","x":4.899,"y":3.548},{"c":"Eb","s":"dotted","x":5.008,"y":3.659},{"c":"Eb","s":"dotted","x":5.128,"y":3.763},{"c":"Eb","s":"dotted","x":5.263,"y":3.841},{"c":"Eb","s":"dotted","x":5.413,"y":3.888},{"c":"Eb","s":"dotted","x":5.575,"y":3.892},{"c":"Eb","s":"dotted","x":5.730,"y":3.859},{"c":"Eb","s":"dotted","x":5.873,"y":3.802},{"c":"Eb","s":"dotted","x":6.005,"y":3.711},{"c":"Eb","s":"dotted","x":6.125,"y":3.613},{"c":"Eb","s":"dotted","x":6.242,"y":3.499},{"c":"Eb","s":"dotted","x":6.283,"y":3.463},
{"c":"Ec","s":"dotted","x":2.687,"y":0.098},{"c":"Ec","s":"dotted","x":2.698,"y":0.267},{"c":"Ec","s":"dotted","x":2.757,"y":0.409},{"c":"Ec","s":"dotted","x":2.835,"y":0.543},{"c":"Ec","s":"dotted","x":2.918,"y":0.676},{"c":"Ec","s":"dotted","x":3.004,"y":0.811},{"c":"Ec","s":"dotted","x":3.095,"y":0.940},{"c":"Ec","s":"dotted","x":3.185,"y":1.064},{"c":"Ec","s":"dotted","x":3.282,"y":1.186},{"c":"Ec","s":"dotted","x":3.376,"y":1.303},{"c":"Ec","s":"dotted","x":3.479,"y":1.419},{"c":"Ec","s":"dotted","x":3.588,"y":1.541},{"c":"Ec","s":"dotted","x":3.692,"y":1.660},{"c":"Ec","s":"dotted","x":3.796,"y":1.782},{"c":"Ec","s":"dotted","x":3.900,"y":1.903},{"c":"Ec","s":"dotted","x":4.003,"y":2.028},{"c":"Ec","s":"dotted","x":4.081,"y":2.157},{"c":"Ec","s":"dotted","x":4.172,"y":2.282},{"c":"Ec","s":"dotted","x":4.237,"y":2.338},{"c":"Ec","s":"dotted","x":4.334,"y":2.468},{"c":"Ec","s":"dotted","x":4.427,"y":2.595},{"c":"Ec","s":"dotted","x":4.515,"y":2.722},{"c":"Ec","s":"dotted","x":4.609,"y":2.851},{"c":"Ec","s":"dotted","x":4.705,"y":2.981},{"c":"Ec","s":"dotted","x":4.801,"y":3.108},{"c":"Ec","s":"dotted","x":4.899,"y":3.220},{"c":"Ec","s":"dotted","x":5.008,"y":3.341},{"c":"Ec","s":"dotted","x":5.128,"y":3.445},{"c":"Ec","s":"dotted","x":5.258,"y":3.535},{"c":"Ec","s":"dotted","x":5.406,"y":3.595},{"c":"Ec","s":"dotted","x":5.561,"y":3.600},{"c":"Ec","s":"dotted","x":5.715,"y":3.556},{"c":"Ec","s":"dotted","x":5.850,"y":3.476},{"c":"Ec","s":"dotted","x":5.970,"y":3.372},{"c":"Ec","s":"dotted","x":6.073,"y":3.255},{"c":"Ec","s":"dotted","x":6.151,"y":3.115},{"c":"Ec","s":"dotted","x":6.196,"y":2.968},{"c":"Ec","s":"dotted","x":6.203,"y":2.812},{"c":"Ec","s":"dotted","x":6.177,"y":2.657},{"c":"Ec","s":"dotted","x":6.141,"y":2.501},{"c":"Ec","s":"dotted","x":6.138,"y":2.346},{"c":"Ec","s":"dotted","x":6.153,"y":2.188},{"c":"Ec","s":"dotted","x":6.159,"y":2.028},{"c":"Ec","s":"dotted","x":6.133,"y":1.872},{"c":"Ec","s":"dotted","x":6.094,"y":1.717},{"c":"Ec","s":"dotted","x":6.037,"y":1.561},{"c":"Ec","s":"dotted","x":5.972,"y":1.432},{"c":"Ec","s":"dotted","x":5.912,"y":1.289},{"c":"Ec","s":"dotted","x":5.834,"y":1.147},{"c":"Ec","s":"dotted","x":5.751,"y":1.017},{"c":"Ec","s":"dotted","x":5.653,"y":0.889},{"c":"Ec","s":"dotted","x":5.561,"y":0.759},{"c":"Ec","s":"dotted","x":5.458,"y":0.629},{"c":"Ec","s":"dotted","x":5.354,"y":0.500},{"c":"Ec","s":"dotted","x":5.242,"y":0.370},{"c":"Ec","s":"dotted","x":5.162,"y":0.277},{"c":"Ec","s":"dotted","x":5.123,"y":0.184},{"c":"Ec","s":"dotted","x":5.120,"y":0.098},
{"c":"Ed","s":"dotted","x":3.004,"y":0.098},{"c":"Ed","s":"dotted","x":3.004,"y":0.267},{"c":"Ed","s":"dotted","x":3.030,"y":0.409},{"c":"Ed","s":"dotted","x":3.103,"y":0.543},{"c":"Ed","s":"dotted","x":3.185,"y":0.676},{"c":"Ed","s":"dotted","x":3.277,"y":0.811},{"c":"Ed","s":"dotted","x":3.362,"y":0.940},{"c":"Ed","s":"dotted","x":3.453,"y":1.064},{"c":"Ed","s":"dotted","x":3.544,"y":1.186},{"c":"Ed","s":"dotted","x":3.640,"y":1.303},{"c":"Ed","s":"dotted","x":3.746,"y":1.432},{"c":"Ed","s":"dotted","x":3.855,"y":1.549},{"c":"Ed","s":"dotted","x":3.957,"y":1.670},{"c":"Ed","s":"dotted","x":4.069,"y":1.794},{"c":"Ed","s":"dotted","x":4.172,"y":1.924},{"c":"Ed","s":"dotted","x":4.264,"y":2.041},{"c":"Ed","s":"dotted","x":4.354,"y":2.171},{"c":"Ed","s":"dotted","x":4.440,"y":2.297},{"c":"Ed","s":"dotted","x":4.544,"y":2.422},{"c":"Ed","s":"dotted","x":4.648,"y":2.546},{"c":"Ed","s":"dotted","x":4.743,"y":2.668},{"c":"Ed","s":"dotted","x":4.848,"y":2.787},{"c":"Ed","s":"dotted","x":4.951,"y":2.909},{"c":"Ed","s":"dotted","x":5.068,"y":3.017},{"c":"Ed","s":"dotted","x":5.185,"y":3.121},{"c":"Ed","s":"dotted","x":5.328,"y":3.193},{"c":"Ed","s":"dotted","x":5.479,"y":3.214},{"c":"Ed","s":"dotted","x":5.627,"y":3.162},{"c":"Ed","s":"dotted","x":5.741,"y":3.051},{"c":"Ed","s":"dotted","x":5.814,"y":2.913},{"c":"Ed","s":"dotted","x":5.842,"y":2.758},{"c":"Ed","s":"dotted","x":5.834,"y":2.603},{"c":"Ed","s":"dotted","x":5.814,"y":2.447},{"c":"Ed","s":"dotted","x":5.814,"y":2.292},{"c":"Ed","s":"dotted","x":5.847,"y":2.136},{"c":"Ed","s":"dotted","x":5.873,"y":1.976},{"c":"Ed","s":"dotted","x":5.868,"y":1.821},{"c":"Ed","s":"dotted","x":5.847,"y":1.665},{"c":"Ed","s":"dotted","x":5.803,"y":1.515},{"c":"Ed","s":"dotted","x":5.748,"y":1.367},{"c":"Ed","s":"dotted","x":5.684,"y":1.238},{"c":"Ed","s":"dotted","x":5.608,"y":1.095},{"c":"Ed","s":"dotted","x":5.528,"y":0.948},{"c":"Ed","s":"dotted","x":5.437,"y":0.815},{"c":"Ed","s":"dotted","x":5.341,"y":0.689},{"c":"Ed","s":"dotted","x":5.242,"y":0.564},{"c":"Ed","s":"dotted","x":5.141,"y":0.448},{"c":"Ed","s":"dotted","x":5.037,"y":0.331},{"c":"Ed","s":"dotted","x":4.941,"y":0.215},{"c":"Ed","s":"dotted","x":4.899,"y":0.137},{"c":"Ed","s":"dotted","x":4.895,"y":0.098},
{"c":"Ee","s":"dotted","x":3.407,"y":0.098},{"c":"Ee","s":"dotted","x":3.414,"y":0.267},{"c":"Ee","s":"dotted","x":3.458,"y":0.409},{"c":"Ee","s":"dotted","x":3.524,"y":0.559},{"c":"Ee","s":"dotted","x":3.601,"y":0.699},{"c":"Ee","s":"dotted","x":3.679,"y":0.836},{"c":"Ee","s":"dotted","x":3.757,"y":0.979},{"c":"Ee","s":"dotted","x":3.840,"y":1.108},{"c":"Ee","s":"dotted","x":3.939,"y":1.238},{"c":"Ee","s":"dotted","x":4.035,"y":1.359},{"c":"Ee","s":"dotted","x":4.134,"y":1.484},{"c":"Ee","s":"dotted","x":4.229,"y":1.600},{"c":"Ee","s":"dotted","x":4.334,"y":1.717},{"c":"Ee","s":"dotted","x":4.432,"y":1.833},{"c":"Ee","s":"dotted","x":4.536,"y":1.963},{"c":"Ee","s":"dotted","x":4.648,"y":2.074},{"c":"Ee","s":"dotted","x":4.757,"y":2.191},{"c":"Ee","s":"dotted","x":4.868,"y":2.300},{"c":"Ee","s":"dotted","x":4.996,"y":2.398},{"c":"Ee","s":"dotted","x":5.133,"y":2.474},{"c":"Ee","s":"dotted","x":5.211,"y":2.494},{"c":"Ee","s":"dotted","x":5.276,"y":2.450},{"c":"Ee","s":"dotted","x":5.323,"y":2.307},{"c":"Ee","s":"dotted","x":5.333,"y":2.152},{"c":"Ee","s":"dotted","x":5.393,"y":2.002},{"c":"Ee","s":"dotted","x":5.458,"y":1.847},{"c":"Ee","s":"dotted","x":5.479,"y":1.691},{"c":"Ee","s":"dotted","x":5.458,"y":1.536},{"c":"Ee","s":"dotted","x":5.419,"y":1.394},{"c":"Ee","s":"dotted","x":5.367,"y":1.251},{"c":"Ee","s":"dotted","x":5.302,"y":1.101},{"c":"Ee","s":"dotted","x":5.224,"y":0.966},{"c":"Ee","s":"dotted","x":5.133,"y":0.836},{"c":"Ee","s":"dotted","x":5.037,"y":0.712},{"c":"Ee","s":"dotted","x":4.938,"y":0.582},{"c":"Ee","s":"dotted","x":4.842,"y":0.461},{"c":"Ee","s":"dotted","x":4.747,"y":0.339},{"c":"Ee","s":"dotted","x":4.653,"y":0.215},{"c":"Ee","s":"dotted","x":4.601,"y":0.150},{"c":"Ee","s":"dotted","x":4.588,"y":0.098},
{"c":"RE1","s":"dotted","x":6.283,"y":1.561},{"c":"RE1","s":"dotted","x":6.211,"y":1.406},{"c":"RE1","s":"dotted","x":6.133,"y":1.264},{"c":"RE1","s":"dotted","x":6.042,"y":1.134},{"c":"RE1","s":"dotted","x":5.946,"y":1.005},{"c":"RE1","s":"dotted","x":5.847,"y":0.875},{"c":"RE1","s":"dotted","x":5.738,"y":0.746},{"c":"RE1","s":"dotted","x":5.627,"y":0.617},{"c":"RE1","s":"dotted","x":5.518,"y":0.487},{"c":"RE1","s":"dotted","x":5.413,"y":0.357},{"c":"RE1","s":"dotted","x":5.341,"y":0.246},{"c":"RE1","s":"dotted","x":5.315,"y":0.163},{"c":"RE1","s":"dotted","x":5.315,"y":0.098},
{"c":"RE2","s":"dotted","x":6.283,"y":1.199},{"c":"RE2","s":"dotted","x":6.192,"y":1.070},{"c":"RE2","s":"dotted","x":6.089,"y":0.940},{"c":"RE2","s":"dotted","x":5.995,"y":0.811},{"c":"RE2","s":"dotted","x":5.907,"y":0.681},{"c":"RE2","s":"dotted","x":5.814,"y":0.551},{"c":"RE2","s":"dotted","x":5.712,"y":0.422},{"c":"RE2","s":"dotted","x":5.608,"y":0.298},{"c":"RE2","s":"dotted","x":5.528,"y":0.199},{"c":"RE2","s":"dotted","x":5.483,"y":0.098},
{"c":"C1","s":"dotted","x":0.098,"y":3.680},{"c":"C1","s":"dotted","x":0.147,"y":3.620},{"c":"C1","s":"dotted","x":0.252,"y":3.491},{"c":"C1","s":"dotted","x":0.348,"y":3.369},{"c":"C1","s":"dotted","x":0.428,"y":3.237},{"c":"C1","s":"dotted","x":0.493,"y":3.095},{"c":"C1","s":"dotted","x":0.537,"y":2.940},{"c":"C1","s":"dotted","x":0.542,"y":2.841},{"c":"C1","s":"dotted","x":0.511,"y":2.707},{"c":"C1","s":"dotted","x":0.446,"y":2.554},{"c":"C1","s":"dotted","x":0.397,"y":2.404},{"c":"C1","s":"dotted","x":0.361,"y":2.253},{"c":"C1","s":"dotted","x":0.336,"y":2.103},{"c":"C1","s":"dotted","x":0.320,"y":1.950},{"c":"C1","s":"dotted","x":0.298,"y":1.794},{"c":"C1","s":"dotted","x":0.272,"y":1.717},{"c":"C1","s":"dotted","x":0.238,"y":1.644},{"c":"C1","s":"dotted","x":0.205,"y":1.575},{"c":"C1","s":"dotted","x":0.168,"y":1.505},{"c":"C1","s":"dotted","x":0.135,"y":1.432},{"c":"C1","s":"dotted","x":0.098,"y":1.372},
{"c":"C2","s":"dotted","x":0.098,"y":3.307},{"c":"C2","s":"dotted","x":0.140,"y":3.251},{"c":"C2","s":"dotted","x":0.213,"y":3.108},{"c":"C2","s":"dotted","x":0.256,"y":2.960},{"c":"C2","s":"dotted","x":0.244,"y":2.805},{"c":"C2","s":"dotted","x":0.205,"y":2.641},{"c":"C2","s":"dotted","x":0.147,"y":2.494},{"c":"C2","s":"dotted","x":0.122,"y":2.338},{"c":"C2","s":"dotted","x":0.122,"y":2.183},{"c":"C2","s":"dotted","x":0.118,"y":2.028},{"c":"C2","s":"dotted","x":0.100,"y":1.885}
],
"t": [{"x": 1, "y": 1}]},
"layer": [
{"data": {"name": "c"},
 "mark": {"type": "line", "color": "black", "strokeWidth": 1.3, "clip": true},
 "encoding": {
  "x": {"field": "x", "type": "quantitative", "scale": {"domain": [0.0982, 6.2832], "nice": false, "zero": false},
        "axis": {"orient": "bottom", "values": [1,2,3,4,5,6], "format": "d", "title": null, "domain": false, "grid": false, "tickSize": -8, "tickColor": "black", "tickWidth": 1, "labelFont": "Liberation Sans", "labelFontSize": 35, "labelColor": "black", "labelPadding": 15, "labelFlush": false, "labelOverlap": false}},
  "y": {"field": "y", "type": "quantitative", "scale": {"domain": [0.0982, 6.2832], "nice": false, "zero": false},
        "axis": {"orient": "left", "values": [1,2,3,4,5,6], "format": "d", "title": null, "domain": false, "grid": false, "tickSize": -8, "tickColor": "black", "tickWidth": 1, "labelFont": "Liberation Sans", "labelFontSize": 35, "labelColor": "black", "labelPadding": 15, "labelFlush": false, "labelOverlap": false}},
  "detail": {"field": "c", "type": "nominal"},
  "strokeDash": {"field": "s", "type": "nominal", "scale": {"domain": ["solid", "dotted"], "range": [[1, 0], [1.5, 8.8]]}, "legend": null},
  "order": {"value": null}
 }},
{"data": {"name": "t"},
 "mark": {"type": "point", "opacity": 0},
 "encoding": {
  "x": {"field": "x", "type": "quantitative", "scale": {"domain": [0.0982, 6.2832], "nice": false, "zero": false},
        "axis": {"orient": "top", "values": [1,2,3,4,5,6], "title": null, "domain": false, "grid": false, "labels": false, "tickSize": -8, "tickColor": "black", "tickWidth": 1}},
  "y": {"field": "y", "type": "quantitative", "scale": {"domain": [0.0982, 6.2832], "nice": false, "zero": false},
        "axis": {"orient": "right", "values": [1,2,3,4,5,6], "title": null, "domain": false, "grid": false, "labels": false, "tickSize": -8, "tickColor": "black", "tickWidth": 1}}
 }}
],
"resolve": {"axis": {"x": "independent", "y": "independent"}}
}
